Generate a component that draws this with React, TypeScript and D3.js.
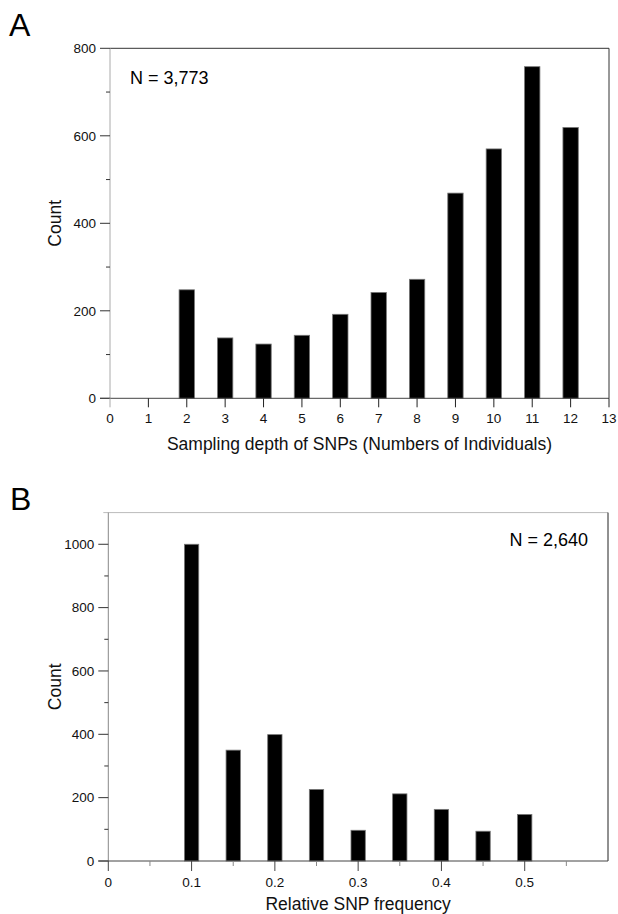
import React from "react";
import * as d3 from "d3";

const depthCategories = [0, 1, 2, 3, 4, 5, 6, 7, 8, 9, 10, 11, 12];
const depthCounts = [0, 0, 248, 138, 124, 144, 192, 242, 272, 469, 570, 758, 619];
const depthTicks = [0, 1, 2, 3, 4, 5, 6, 7, 8, 9, 10, 11, 12, 13];
const depthYMajor = [0, 200, 400, 600, 800];
const depthYMinor = [100, 300, 500, 700];

const freqCategories = [0.1, 0.15, 0.2, 0.25, 0.3, 0.35, 0.4, 0.45, 0.5];
const freqCounts = [1000, 350, 399, 226, 97, 212, 163, 94, 147];
const freqXMajor = [0, 0.1, 0.2, 0.3, 0.4, 0.5];
const freqXMinor = [0.05, 0.15, 0.25, 0.35, 0.45, 0.55];
const freqYMajor = [0, 200, 400, 600, 800, 1000];
const freqYMinor = [100, 300, 500, 700, 900];

const FONT = "'Liberation Sans', Arial, Helvetica, sans-serif";

export default function App() {
  // Panel A scales
  const xA = d3.scaleLinear().domain([0, 13]).range([110, 609]);
  const yA = d3.scaleLinear().domain([0, 800]).range([398.3, 48.3]);
  const bwA = xA(0.4) - xA(0);

  // Panel B scales
  const xB = d3.scaleLinear().domain([0, 0.6]).range([108.3, 608]);
  const yB = d3.scaleLinear().domain([0, 1100]).range([861, 512.6]);
  const bwB = xB(0.0172) - xB(0);

  return (
    <svg
      width={618}
      height={914}
      style={{ position: "absolute", left: 0, top: 0, background: "#fff" }}
      fontFamily={FONT}
    >
      <rect x={0} y={0} width={618} height={914} fill="#fff" />

      {/* ---------- Panel A ---------- */}
      <text x={9} y={36} fontSize={32} fill="#000">A</text>

      <line x1={xA(0)} x2={xA(13)} y1={yA(800)} y2={yA(800)} stroke="#333" strokeWidth={1} />
      <line x1={xA(13)} x2={xA(13)} y1={yA(800)} y2={yA(0)} stroke="#333" strokeWidth={1} />

      {depthCategories.map((c, i) =>
        depthCounts[i] > 0 ? (
          <rect
            key={"a" + c}
            x={xA(c) - bwA / 2}
            y={yA(depthCounts[i])}
            width={bwA}
            height={yA(0) - yA(depthCounts[i])}
            fill="#000"
            stroke="#777"
            strokeWidth={0.8}
          />
        ) : null
      )}

      <line x1={xA(0)} x2={xA(0)} y1={yA(800)} y2={yA(0)} stroke="#aaa" strokeWidth={1} />
      {depthYMajor.map((v) => (
        <g key={"ay" + v}>
          <line x1={xA(0) - 10} x2={xA(0)} y1={yA(v)} y2={yA(v)} stroke="#333" strokeWidth={1} />
          <text x={xA(0) - 14} y={yA(v)} dy="0.35em" textAnchor="end" fontSize={13.5} fill="#111">
            {v}
          </text>
        </g>
      ))}
      {depthYMinor.map((v) => (
        <line key={"aym" + v} x1={xA(0) - 4} x2={xA(0)} y1={yA(v)} y2={yA(v)} stroke="#333" strokeWidth={1} />
      ))}

      <line x1={xA(0) - 10} x2={xA(13)} y1={yA(0)} y2={yA(0)} stroke="#444" strokeWidth={1} />
      {depthTicks.map((t) => (
        <g key={"ax" + t}>
          <line x1={xA(t)} x2={xA(t)} y1={yA(0)} y2={yA(0) + 9} stroke={t === 0 ? "#aaa" : "#222"} strokeWidth={1} />
          <text x={xA(t)} y={yA(0) + 25} textAnchor="middle" fontSize={13.5} fill="#111">
            {t}
          </text>
        </g>
      ))}

      <text x={(xA(0) + xA(13)) / 2} y={450} textAnchor="middle" fontSize={17.5} fill="#111">
        Sampling depth of SNPs (Numbers of Individuals)
      </text>
      <text
        transform={`translate(61, ${(yA(0) + yA(800)) / 2}) rotate(-90)`}
        textAnchor="middle"
        fontSize={17.5}
        fill="#111"
      >
        Count
      </text>
      <text x={130} y={83.5} fontSize={18} fill="#000">N = 3,773</text>

      {/* ---------- Panel B ---------- */}
      <text x={10} y={510} fontSize={32} fill="#000">B</text>

      <line x1={xB(0) - 5} x2={xB(0.6)} y1={yB(1100)} y2={yB(1100)} stroke="#bbb" strokeWidth={1} />
      <line x1={xB(0.6)} x2={xB(0.6)} y1={yB(1100)} y2={yB(0)} stroke="#222" strokeWidth={1} />

      {freqCategories.map((c, i) => (
        <rect
          key={"b" + c}
          x={xB(c) - bwB / 2}
          y={yB(freqCounts[i])}
          width={bwB}
          height={yB(0) - yB(freqCounts[i])}
          fill="#000"
          stroke="#777"
          strokeWidth={0.8}
        />
      ))}

      <line x1={xB(0)} x2={xB(0)} y1={yB(1100)} y2={yB(0)} stroke="#888" strokeWidth={1} />
      {freqYMajor.map((v) => (
        <g key={"by" + v}>
          <line x1={xB(0) - 10} x2={xB(0)} y1={yB(v)} y2={yB(v)} stroke="#333" strokeWidth={1} />
          <text x={xB(0) - 14} y={yB(v)} dy="0.35em" textAnchor="end" fontSize={13.5} fill="#111">
            {v}
          </text>
        </g>
      ))}
      {freqYMinor.map((v) => (
        <line key={"bym" + v} x1={xB(0) - 4} x2={xB(0)} y1={yB(v)} y2={yB(v)} stroke="#333" strokeWidth={1} />
      ))}

      <line x1={xB(0) - 10} x2={xB(0.6)} y1={yB(0)} y2={yB(0)} stroke="#444" strokeWidth={1} />
      {freqXMajor.map((t) => (
        <g key={"bx" + t}>
          <line x1={xB(t)} x2={xB(t)} y1={yB(0)} y2={yB(0) + 10} stroke="#444" strokeWidth={1} />
          <text x={xB(t)} y={yB(0) + 26} textAnchor="middle" fontSize={13.5} fill="#111">
            {t}
          </text>
        </g>
      ))}
      {freqXMinor.map((t) => (
        <line key={"bxm" + t} x1={xB(t)} x2={xB(t)} y1={yB(0)} y2={yB(0) + 5} stroke="#888" strokeWidth={1} />
      ))}

      <text x={(xB(0) + xB(0.6)) / 2} y={910} textAnchor="middle" fontSize={17.5} fill="#111">
        Relative SNP frequency
      </text>
      <text
        transform={`translate(61, ${(yB(0) + yB(1100)) / 2}) rotate(-90)`}
        textAnchor="middle"
        fontSize={17.5}
        fill="#111"
      >
        Count
      </text>
      <text x={588} y={546} textAnchor="end" fontSize={18} fill="#000">N = 2,640</text>
    </svg>
  );
}
